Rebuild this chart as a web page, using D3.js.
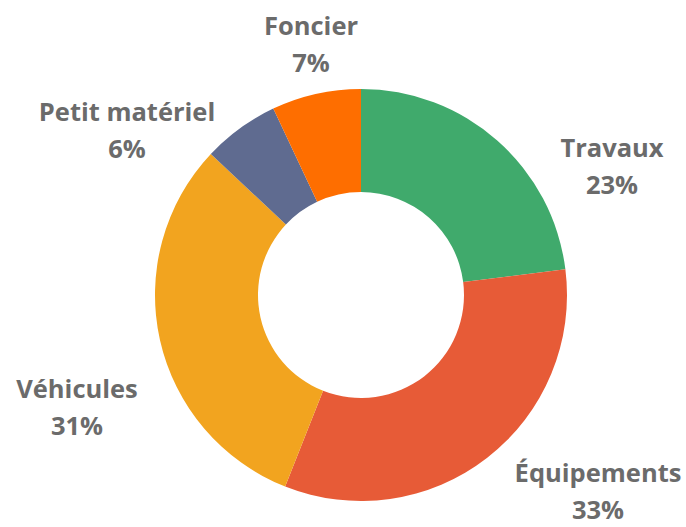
<!DOCTYPE html>
<html>
<head>
<meta charset="utf-8">
<script src="https://cdn.jsdelivr.net/npm/d3@7"></script>
<style>
  body { margin: 0; background: #fff; }
  .lbl { font-family: "Open Sans", sans-serif; font-weight: 700; font-size: 25.5px; fill: #6b6b6b; }
</style>
</head>
<body>
<div id="chart"></div>
<script>
// data
var categories = ['Travaux', 'Équipements', 'Véhicules', 'Petit matériel', 'Foncier'];
var values = [23, 33, 31, 6, 7];
var colors = ['#40aa6c', '#e75b37', '#f2a41f', '#5f6b90', '#fe6e00'];

var svgWidth = 686;
var svgHeight = 527;
var cx = 361, cy = 295;
var outerR = 206, innerR = 103;

// where each label sits, relative to chart centre (layout only)
var labelPos = [[251, -119], [237, 206], [-284, 122], [-234, -155], [-50, -241]];

var svg = d3.select('#chart')
    .append('svg')
    .attr('width', svgWidth)
    .attr('height', svgHeight);

var chartGroup = svg.append('g')
    .attr('transform', `translate(${cx}, ${cy})`);

var table = categories.map(function(c, i) {
    return {name: c, value: values[i], color: colors[i], pos: labelPos[i]};
});

var pie = d3.pie()
    .value(d => d.value)
    .sort(null);

var arc = d3.arc()
    .innerRadius(innerR)
    .outerRadius(outerR);

chartGroup.selectAll('path')
    .data(pie(table))
    .enter()
    .append('path')
    .attr('d', arc)
    .attr('fill', d => d.data.color);

var labels = chartGroup.selectAll('text.lbl')
    .data(table)
    .enter()
    .append('text')
    .attr('class', 'lbl')
    .attr('text-anchor', 'middle');

labels.append('tspan')
    .attr('x', d => d.pos[0])
    .attr('y', d => d.pos[1] - 19)
    .text(d => d.name);

labels.append('tspan')
    .attr('x', d => d.pos[0])
    .attr('y', d => d.pos[1] + 18)
    .text(d => d.value + '%');
</script>
</body>
</html>
